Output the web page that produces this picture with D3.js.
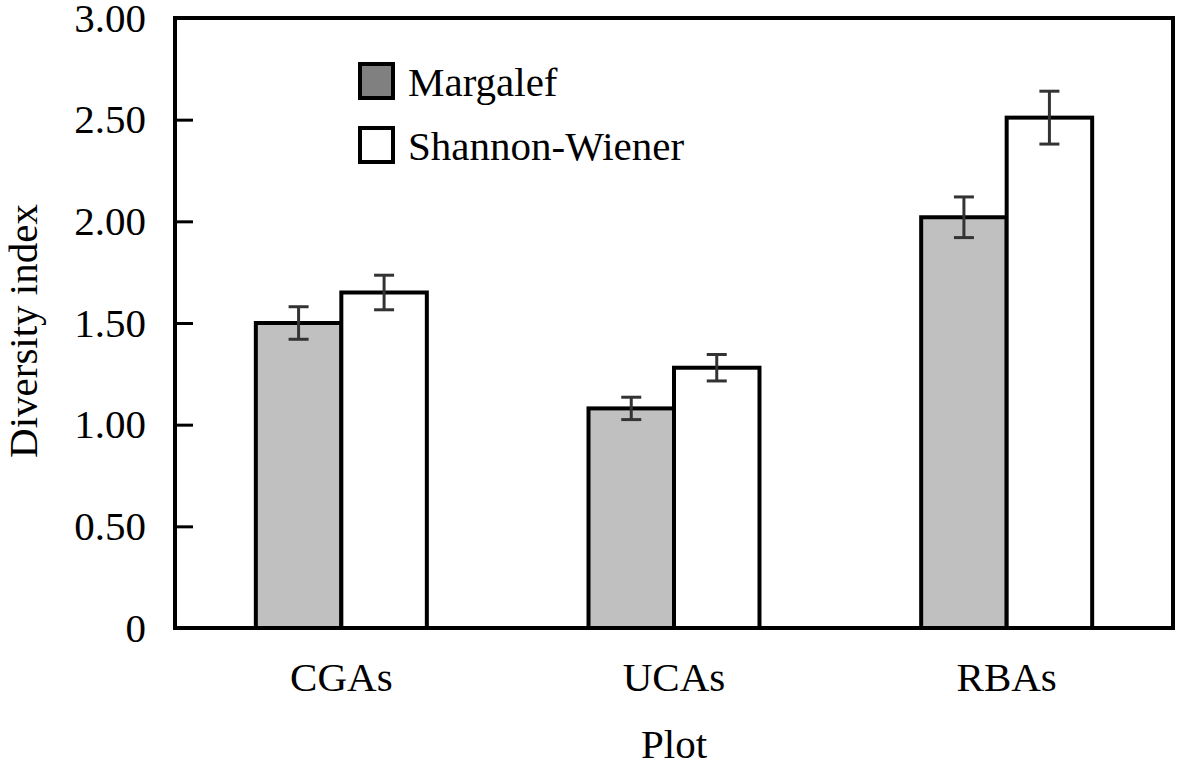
<!DOCTYPE html>
<html><head><meta charset="utf-8">
<script src="https://cdn.jsdelivr.net/npm/d3@7"></script>
<style>body{margin:0;background:#fff}svg{display:block}text{font-family:"Liberation Serif","Times New Roman",serif;fill:#000}</style>
</head><body>
<script>
const categories = ["CGAs","UCAs","RBAs"];
const seriesNames = ["Margalef","Shannon-Wiener"];
const margalef = [1.50, 1.08, 2.02];
const margalefErr = [0.08, 0.055, 0.10];
const shannon = [1.65, 1.28, 2.51];
const shannonErr = [0.085, 0.065, 0.13];
const yTicks = [0, 0.5, 1.0, 1.5, 2.0, 2.5, 3.0];
const yTickLabels = ["0","0.50","1.00","1.50","2.00","2.50","3.00"];

const W = 1181, H = 766;
const m = {left:175, right:8, top:18, bottom:138};
const FS = 41;
const svg = d3.select("body").append("svg").attr("width",W).attr("height",H);
const x = d3.scaleBand().domain(categories).range([m.left, W-m.right]).paddingInner(0.486).paddingOuter(0.243);
const xs = d3.scaleBand().domain(seriesNames).range([0, x.bandwidth()]);
const y = d3.scaleLinear().domain([0,3]).range([H-m.bottom, m.top]);
const fills = ["#c0c0c0","#ffffff"];
const data = [margalef, shannon], errs = [margalefErr, shannonErr];

const g = svg.append("g");
seriesNames.forEach((s,si)=>{
  g.selectAll(null).data(categories).enter().append("rect")
    .attr("x", c=>x(c)+xs(s)).attr("width", xs.bandwidth())
    .attr("y", (c,i)=>y(data[si][i])).attr("height",(c,i)=>y(0)-y(data[si][i]))
    .attr("fill", fills[si]).attr("stroke","#000").attr("stroke-width",4);
});
seriesNames.forEach((s,si)=>{
  categories.forEach((c,i)=>{
    const cx = x(c)+xs(s)+xs.bandwidth()/2;
    const v = data[si][i], e = errs[si][i];
    const eg = g.append("g").attr("stroke","#333").attr("stroke-width",3);
    eg.append("line").attr("x1",cx).attr("x2",cx).attr("y1",y(v+e)).attr("y2",y(v-e));
    eg.append("line").attr("x1",cx-10).attr("x2",cx+10).attr("y1",y(v+e)).attr("y2",y(v+e));
    eg.append("line").attr("x1",cx-10).attr("x2",cx+10).attr("y1",y(v-e)).attr("y2",y(v-e));
  });
});

// frame
svg.append("rect").attr("x",m.left).attr("y",m.top).attr("width",W-m.right-m.left).attr("height",H-m.bottom-m.top)
  .attr("fill","none").attr("stroke","#000").attr("stroke-width",4);

// y axis
const ya = svg.append("g").attr("transform",`translate(${m.left},0)`)
  .call(d3.axisLeft(y).tickValues(yTicks).tickFormat((d,i)=>yTickLabels[i]).tickSizeInner(-18).tickSizeOuter(0).tickPadding(29));
ya.select(".domain").remove();
ya.selectAll("line").attr("stroke","#000").attr("stroke-width",3);
ya.selectAll("text").attr("font-size",FS).attr("font-family","Liberation Serif").attr("fill","#000");

// x labels
const xa = svg.append("g").attr("transform",`translate(0,${H-m.bottom})`)
  .call(d3.axisBottom(x).tickSize(0).tickPadding(34));
xa.select(".domain").remove();
xa.selectAll("text").attr("font-size",FS).attr("font-family","Liberation Serif").attr("fill","#000").attr("dy","0.71em");

svg.append("text").attr("x",(m.left+W-m.right)/2).attr("y",758).attr("text-anchor","middle").attr("font-size",FS).text("Plot");
svg.append("text").attr("transform",`translate(37,${(m.top+H-m.bottom)/2 + 8}) rotate(-90)`).attr("text-anchor","middle").attr("font-size",FS).text("Diversity index");

// legend
const legFills = ["#808080","#ffffff"];
const lg = svg.append("g");
seriesNames.forEach((s,i)=>{
  const yy = 64 + i*64;
  lg.append("rect").attr("x",360).attr("y",yy).attr("width",33).attr("height",34).attr("fill",legFills[i]).attr("stroke","#000").attr("stroke-width",4);
  lg.append("text").attr("x",408).attr("y",yy+32).attr("font-size",FS).text(s);
});
</script>
</body></html>
